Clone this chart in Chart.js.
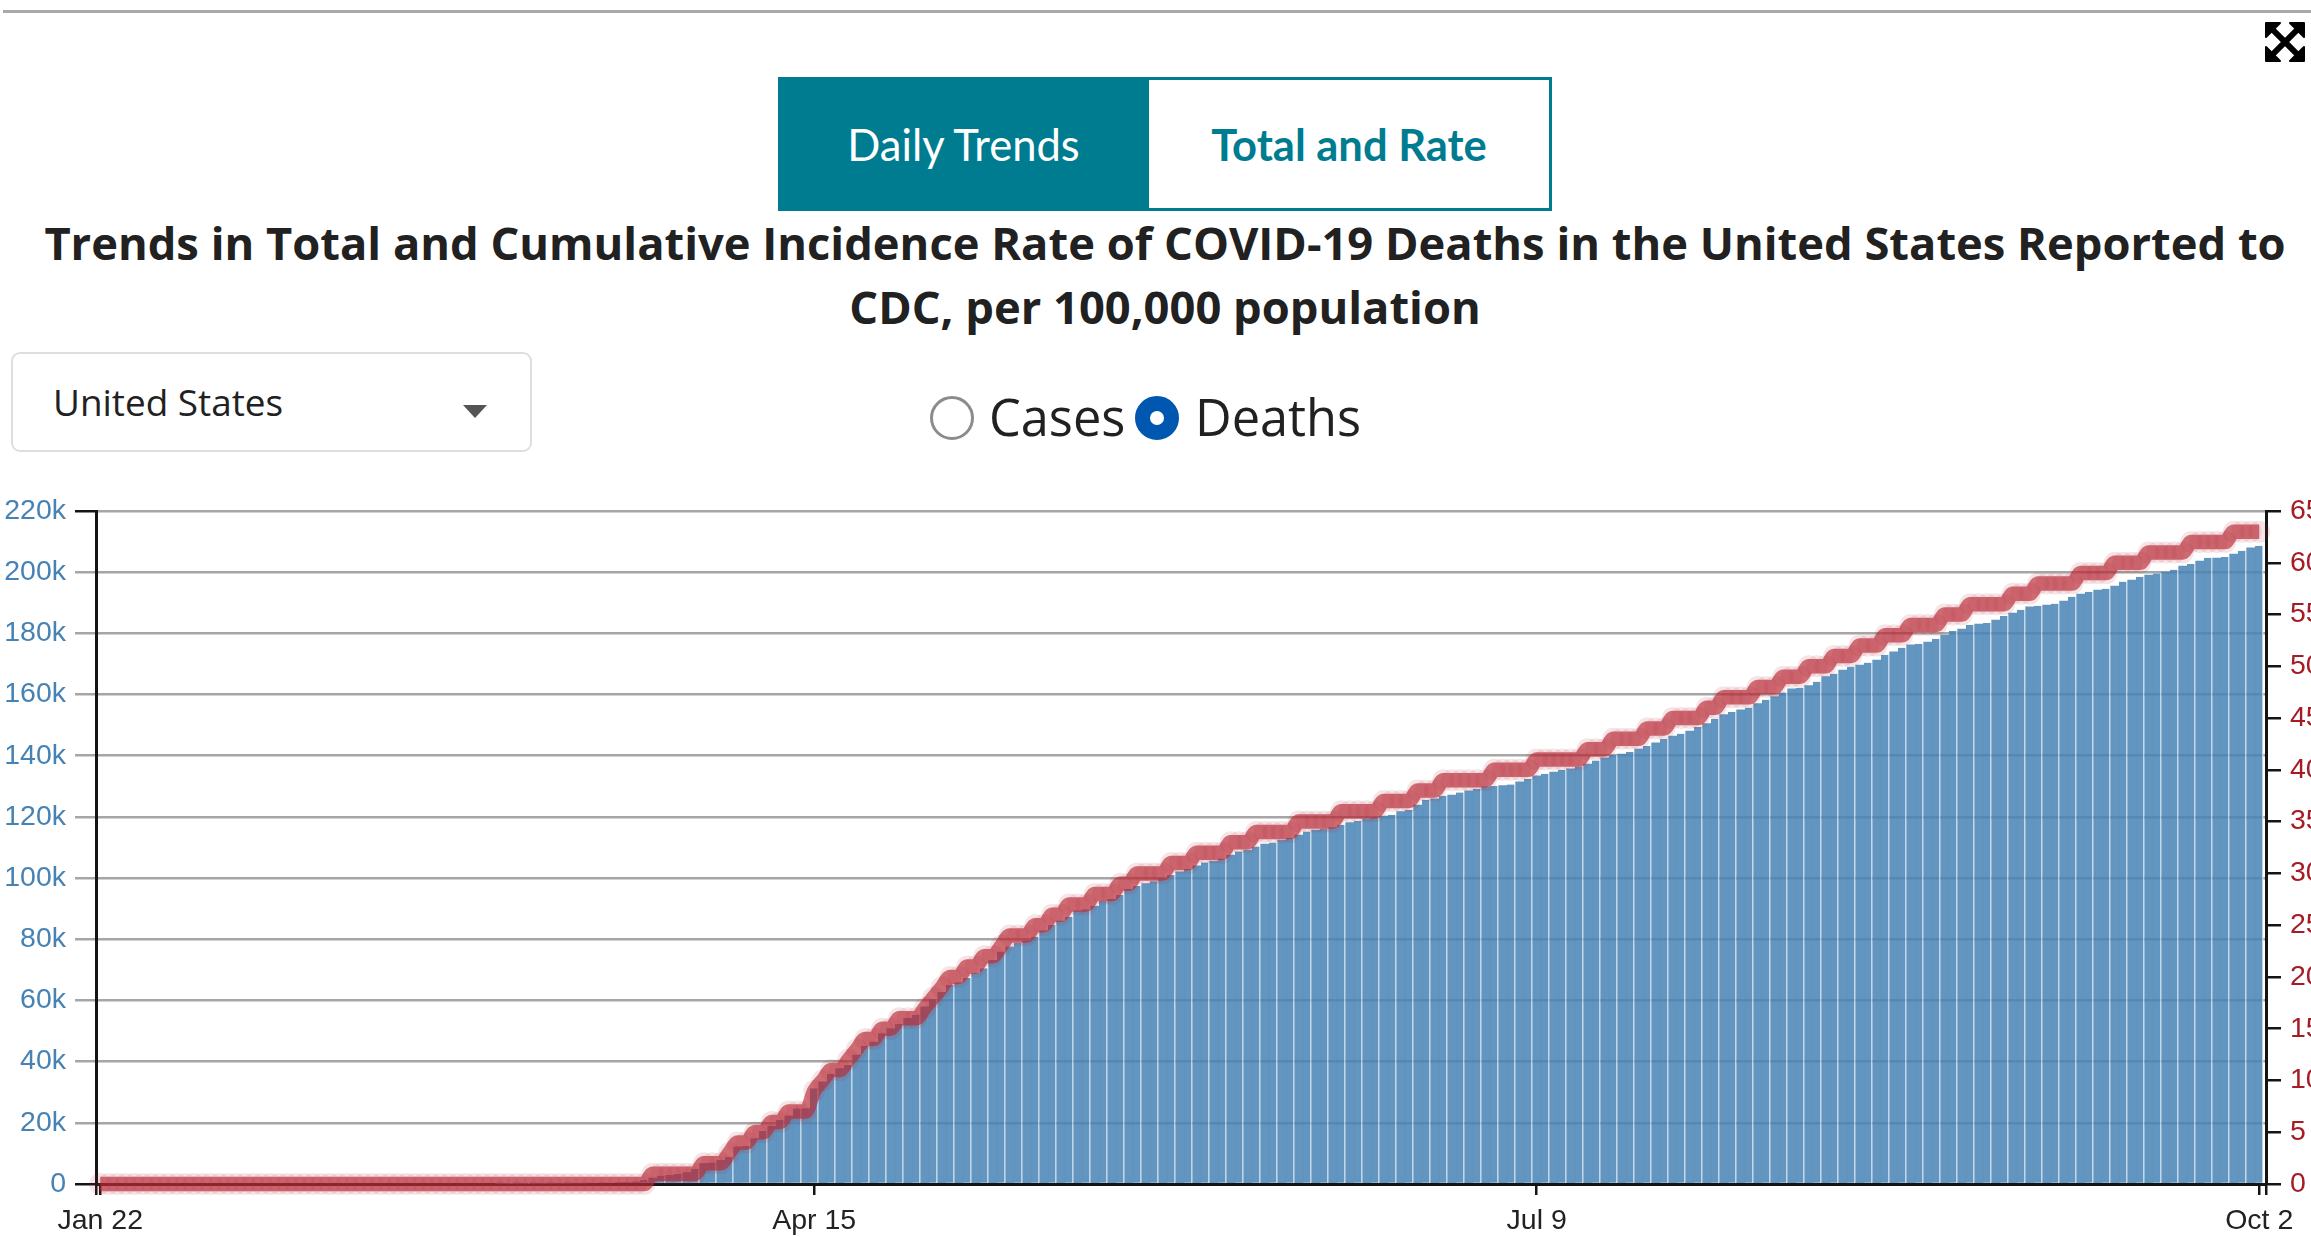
<!DOCTYPE html>
<html>
<head>
<meta charset="utf-8">
<title>Trends in Total and Cumulative Incidence Rate of COVID-19 Deaths</title>
<script src="https://cdn.jsdelivr.net/npm/chart.js@4"></script>
<style>
    html, body { margin: 0; padding: 0; width: 2311px; height: 1237px; overflow: hidden; background: #fff; }
    body { position: relative; font-family: "Open Sans", sans-serif; color: #212121; }
    .abs { position: absolute; }
    #rule { left: 3px; right: 0; top: 10px; height: 3px; background: #a9a9a9; }
    #expand { left: 2265px; top: 22px; width: 40px; height: 40px; }
    .tab { top: 77px; height: 134px; box-sizing: border-box; border: 3px solid #007c91; font: 43.5px/128px Lato, sans-serif; text-align: center; }
    #tab-daily { left: 778px; width: 371px; background: #007c91; color: #fff; }
    #tab-total { left: 1149px; width: 403px; background: #fff; color: #007c91; font-weight: bold; border-left: 0; }
    .title { left: 0; width: 2330px; text-align: center; font-size: 45.3px; font-weight: bold; white-space: nowrap; line-height: 64px; }
    #select { left: 11px; top: 352px; width: 521px; height: 100px; box-sizing: border-box; border: 2px solid #dedede; border-radius: 9px; }
    #select-text { left: 53px; top: 378px; font-size: 36.9px; line-height: 48px; }
    #caret { left: 463px; top: 405px; width: 0; height: 0; border-left: 12px solid transparent; border-right: 12px solid transparent; border-top: 13px solid #555; }
    .radio { top: 396px; width: 44px; height: 44px; box-sizing: border-box; border-radius: 50%; }
    #radio-cases { left: 930px; border: 3px solid #8c8c8c; background: #fff; }
    #radio-deaths { left: 1135px; border: 15px solid #0057b0; background: #fff; }
    .radio-label { top: 383px; font-size: 50.5px; line-height: 68px; }
    #chart-wrap { left: 0; top: 480px; width: 2311px; height: 757px; }
</style>
</head>
<body>
<div class="abs" id="rule"></div>
<svg class="abs" id="expand" viewBox="0 0 40 40">
    <path d="M6 6 L34 34 M34 6 L6 34" stroke="#000" stroke-width="6"/>
    <path d="M1 1 H15 L1 15 Z M39 1 H25 L39 15 Z M1 39 H15 L1 25 Z M39 39 H25 L39 25 Z" fill="#000" stroke="#000" stroke-width="2" stroke-linejoin="round"/>
</svg>
<div class="abs tab" id="tab-daily">Daily Trends</div>
<div class="abs tab" id="tab-total">Total and Rate</div>
<div class="abs title" style="top:211px">Trends in Total and Cumulative Incidence Rate of COVID-19 Deaths in the United States Reported to</div>
<div class="abs title" style="top:275px">CDC, per 100,000 population</div>
<div class="abs" id="select"></div>
<div class="abs" id="select-text">United States</div>
<div class="abs" id="caret"></div>
<div class="abs radio" id="radio-cases"></div>
<div class="abs radio-label" style="left:989px">Cases</div>
<div class="abs radio" id="radio-deaths"></div>
<div class="abs radio-label" style="left:1195px">Deaths</div>
<div class="abs" id="chart-wrap"><canvas id="trendChart" width="2311" height="757"></canvas></div>

<script>
// Day positions of the labelled x ticks (0 = Jan 22)
const tickDays = [0, 84, 169, 254];
const tickDates = ['Jan 22', 'Apr 15', 'Jul 9', 'Oct 2'];

// Total deaths per day
const totalDeaths = [
    0, 0, 0, 0, 0, 0, 0, 0, 0, 0,
    0, 0, 0, 0, 0, 0, 0, 0, 0, 0,
    0, 0, 0, 0, 0, 0, 0, 0, 0, 0,
    0, 0, 0, 0, 0, 0, 0, 0, 0, 0,
    0, 0, 0, 0, 0, 0, 0, 10, 20, 30,
    40, 50, 60, 80, 100, 130, 160, 200, 260, 330,
    420, 520, 640, 760, 1300, 2000, 2700, 2900, 3300, 3800,
    4900, 6800, 7000, 7800, 8900, 12200, 12400, 14900, 17300, 19000,
    20900, 22300, 24700, 24700, 31300, 33500, 36000, 37800, 38900, 42200,
    45100, 46500, 49300, 50900, 52300, 54200, 55300, 58000, 60400, 62700,
    65100, 65800, 67300, 68900, 70500, 73200, 76000, 77600, 78900, 79600,
    80900, 82800, 84700, 86000, 87400, 89400, 89800, 90900, 92500, 93100,
    94500, 96400, 97400, 98300, 99000, 99800, 101000, 102100, 103000, 104100,
    105100, 105600, 106400, 107600, 108700, 109200, 110300, 111200, 111600, 112500,
    113100, 114100, 115200, 115800, 116200, 116600, 117400, 118200, 118700, 119400,
    119900, 120300, 120700, 121800, 122300, 123900, 125600, 126000, 126900, 127200,
    128000, 128600, 129200, 129900, 130100, 130300, 130600, 131500, 132400, 133500,
    134100, 134700, 135400, 135800, 136500, 137300, 138400, 139400, 140200, 140600,
    141300, 142200, 143200, 144300, 145500, 146500, 147200, 148100, 149400, 150600,
    152100, 153500, 154300, 155100, 155700, 157100, 158300, 159400, 160700, 161900,
    162200, 163000, 164200, 165900, 166800, 168100, 169100, 169700, 170400, 171300,
    173000, 174000, 175300, 176300, 176600, 177200, 178200, 179500, 180800, 181500,
    182800, 183100, 183400, 184400, 185700, 186700, 187700, 188700, 189000, 189300,
    189700, 190600, 192000, 192900, 193600, 194200, 194600, 195500, 196900, 197500,
    198500, 199100, 199600, 200100, 200800, 202100, 202700, 203700, 204700, 204700,
    205000, 206000, 207000, 208000, 208600
];

// Cumulative rate per 100,000
const incidenceRate = [
    0, 0, 0, 0, 0, 0, 0, 0, 0, 0,
    0, 0, 0, 0, 0, 0, 0, 0, 0, 0,
    0, 0, 0, 0, 0, 0, 0, 0, 0, 0,
    0, 0, 0, 0, 0, 0, 0, 0, 0, 0,
    0, 0, 0, 0, 0, 0, 0, 0, 0, 0,
    0, 0, 0, 0, 0, 0, 0, 0, 0, 0,
    0, 0, 0, 0, 0, 1, 1, 1, 1, 1,
    1, 2, 2, 2, 3, 4, 4, 5, 5, 6,
    6, 7, 7, 7, 9, 10, 11, 11, 12, 13,
    14, 14, 15, 15, 16, 16, 16, 17, 18, 19,
    20, 20, 21, 21, 22, 22, 23, 24, 24, 24,
    25, 25, 26, 26, 27, 27, 27, 28, 28, 28,
    29, 29, 30, 30, 30, 30, 31, 31, 31, 32,
    32, 32, 32, 33, 33, 33, 34, 34, 34, 34,
    34, 35, 35, 35, 35, 35, 36, 36, 36, 36,
    36, 37, 37, 37, 37, 38, 38, 38, 39, 39,
    39, 39, 39, 39, 40, 40, 40, 40, 40, 41,
    41, 41, 41, 41, 41, 42, 42, 42, 43, 43,
    43, 43, 44, 44, 44, 45, 45, 45, 45, 46,
    46, 47, 47, 47, 47, 48, 48, 48, 49, 49,
    49, 50, 50, 50, 51, 51, 51, 52, 52, 52,
    53, 53, 53, 54, 54, 54, 54, 55, 55, 55,
    56, 56, 56, 56, 56, 57, 57, 57, 58, 58,
    58, 58, 58, 59, 59, 59, 59, 60, 60, 60,
    60, 61, 61, 61, 61, 61, 62, 62, 62, 62,
    62, 63, 63, 63, 63
];

const axisBlack = '#141414';
const gridGray = '#a6a6a6';
const labelFont = { family: '"Liberation Sans", Arial, sans-serif', size: 28.5 };

new Chart(document.getElementById('trendChart'), {
    data: {
        datasets: [
            {
                type: 'line',
                yAxisID: 'yRate',
                order: 0,
                data: incidenceRate.map((v, i) => ({ x: i, y: v })),
                borderColor: 'rgba(185, 44, 55, 0.66)',
                borderWidth: 14.5,
                cubicInterpolationMode: 'monotone',
                pointRadius: 11,
                pointBorderWidth: 0,
                pointBackgroundColor: 'rgba(185, 44, 55, 0.12)',
                clip: false
            },
            {
                type: 'bar',
                yAxisID: 'yTotal',
                order: 1,
                data: totalDeaths.map((v, i) => ({ x: i, y: v })),
                backgroundColor: 'rgba(70, 130, 180, 0.85)',
                // white slit after every second bar, seams between the others hidden by the small inflate
                borderColor: '#fff',
                borderWidth: ctx => ctx.dataIndex % 2 === 0 ? { top: 0, right: 1.2, bottom: 0, left: 0 } : 0,
                inflateAmount: 0.125,
                // the extra end ticks would otherwise shrink the auto width
                barThickness: 8.5
            }
        ]
    },
    options: {
        responsive: false,
        animation: false,
        devicePixelRatio: 1,
        layout: { padding: { top: 31, left: 0, right: 0, bottom: 0 } },
        plugins: { legend: { display: false }, tooltip: { enabled: false } },
        scales: {
            x: {
                type: 'linear',
                offset: false,
                min: -0.5,
                max: 254.8,
                afterBuildTicks: scale => {
                    // axis ends carry a tick too, without a label
                    scale.ticks = [-0.5, ...tickDays, 254.8].map(v => ({ value: v }));
                },
                afterFit: scale => { scale.height = 53; },
                border: { color: axisBlack, width: 3 },
                grid: { offset: false, drawOnChartArea: false, color: axisBlack, lineWidth: 2.5, tickLength: 11 },
                ticks: {
                    color: '#222',
                    font: labelFont,
                    padding: 9,
                    autoSkip: false,
                    maxRotation: 0,
                    callback: v => {
                        const k = tickDays.indexOf(v);
                        return k >= 0 ? tickDates[k] : '';
                    }
                }
            },
            yTotal: {
                position: 'left',
                min: 0,
                max: 220000,
                afterFit: scale => { scale.width = 96; },
                border: { color: axisBlack, width: 3 },
                grid: {
                    color: gridGray,
                    lineWidth: 2.5,
                    tickLength: 21,
                    tickColor: ctx => (ctx.tick.value === 0 || ctx.tick.value === 220000) ? axisBlack : gridGray
                },
                ticks: {
                    stepSize: 20000,
                    color: '#4682b4',
                    font: labelFont,
                    padding: 9,
                    callback: v => v === 0 ? '0' : (v / 1000) + 'k'
                }
            },
            yRate: {
                position: 'right',
                min: 0,
                max: 65,
                afterFit: scale => { scale.width = 45; },
                border: { color: axisBlack, width: 3 },
                grid: { drawOnChartArea: false, color: axisBlack, lineWidth: 2.5, tickLength: 15 },
                ticks: {
                    stepSize: 5,
                    color: '#a51c24',
                    font: labelFont,
                    padding: 9
                }
            }
        }
    }
});
</script>
</body>
</html>
